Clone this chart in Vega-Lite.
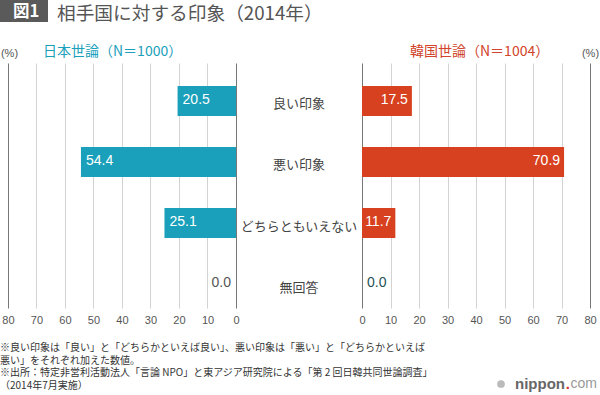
{
  "$schema": "https://vega.github.io/schema/vega-lite/v6.json",
  "padding": 0,
  "background": "white",
  "config": {"view": {"stroke": null}, "font": "Noto Sans CJK JP"},
  "data": {"values": [
    {"cat": "良い印象", "jp": 20.5, "kr": 17.5},
    {"cat": "悪い印象", "jp": 54.4, "kr": 70.9},
    {"cat": "どちらともいえない", "jp": 25.1, "kr": 11.7},
    {"cat": "無回答", "jp": 0.0, "kr": 0.0}
  ]},
  "bounds": "flush",
  "spacing": 41,
  "vconcat": [
    {
      "width": 48,
      "height": 22,
      "view": {"fill": "#5a5a5a", "stroke": null},
      "data": {"values": [{"t": "図1"}]},
      "mark": {"type": "text", "text": "図1", "color": "white", "fontSize": 16.5, "fontWeight": "bold", "font": "Noto Sans CJK JP", "dx": 2, "dy": 1},
      "title": {"text": "相手国に対する印象（2014年）", "orient": "top", "anchor": "start", "frame": "group", "dx": 57, "dy": 21, "offset": -12, "baseline": "middle", "fontSize": 18.7, "fontWeight": "normal", "color": "#555555", "font": "Noto Sans CJK JP"}
    },
    {
      "hconcat": [
        {
          "width": 236,
          "height": 245,
          "title": {"text": "日本世論（N＝1000）", "anchor": "start", "frame": "group", "dx": 43, "dy": 18.5, "baseline": "middle", "offset": 0, "fontSize": 14, "fontWeight": "normal", "color": "#1aa0ba", "font": "Noto Sans CJK JP"},
          "encoding": {
            "y": {"field": "cat", "type": "nominal", "sort": null,
              "scale": {"paddingInner": 0.508, "paddingOuter": 0.262, "align": 0.72},
              "axis": {"orient": "left", "labels": false, "ticks": false, "domain": false, "grid": false, "title": "(%)", "titleAngle": 0, "titleX": 9, "titleY": -5, "titleAlign": "center", "titleBaseline": "bottom", "titleFontSize": 11, "titleFontWeight": "normal", "titleColor": "#555555", "titleFont": "Liberation Sans"}},
            "x": {"field": "jp", "type": "quantitative",
              "scale": {"domain": [0, 82.807], "reverse": true, "nice": false, "zero": true},
              "axis": {"values": [0, 10, 20, 30, 40, 50, 60, 70, 80], "grid": true,
                "gridColor": {"condition": {"test": "datum.value === 0 || datum.value === 80", "value": "#777777"}, "value": "#d3d3d3"},
                "domain": false, "ticks": false, "tickSize": 0, "labelPadding": 6, "labelFontSize": 11, "labelColor": "#555555", "labelFont": "Liberation Sans", "labelFlush": false, "labelOverlap": false, "title": null}}
          },
          "layer": [
            {"mark": {"type": "bar", "color": "#1aa0ba"}},
            {"transform": [{"filter": "datum.jp > 0"}],
             "mark": {"type": "text", "align": "left", "dx": 5, "dy": -1, "color": "white", "fontSize": 14, "font": "Liberation Sans"},
             "encoding": {"text": {"field": "jp", "type": "quantitative", "format": ".1f"}}},
            {"transform": [{"filter": "datum.jp == 0"}],
             "mark": {"type": "text", "align": "right", "dx": -5, "dy": -1, "color": "#555555", "fontSize": 14, "font": "Liberation Sans"},
             "encoding": {"text": {"field": "jp", "type": "quantitative", "format": ".1f"}}}
          ]
        },
        {
          "width": 126,
          "height": 245,
          "title": {"text": ["※良い印象は「良い」と「どちらかといえば良い」、悪い印象は「悪い」と「どちらかといえば", "悪い」をそれぞれ加えた数値。", "※出所：特定非営利活動法人「言論 NPO」と東アジア研究院による「第 2 回日韓共同世論調査」", "（2014年7月実施）"], "orient": "bottom", "anchor": "start", "frame": "group", "dx": -236, "baseline": "top", "offset": 35, "fontSize": 10, "lineHeight": 12.7, "font": "Noto Sans CJK JP", "fontWeight": "normal", "color": "#333333"},
          "mark": {"type": "text", "fontSize": 13, "dy": -3, "color": "#444444", "font": "Noto Sans CJK JP"},
          "encoding": {
            "y": {"field": "cat", "type": "nominal", "sort": null,
              "scale": {"paddingInner": 0.508, "paddingOuter": 0.262, "align": 0.72}, "axis": null},
            "text": {"field": "cat", "type": "nominal"}
          }
        },
        {
          "width": 228,
          "height": 245,
          "title": {"text": "韓国世論（N＝1004）", "anchor": "start", "frame": "group", "dx": 48, "dy": 18.5, "baseline": "middle", "offset": 0, "fontSize": 14, "fontWeight": "normal", "color": "#d1432a", "font": "Noto Sans CJK JP"},
          "layer": [
            {
              "encoding": {
                "y": {"field": "cat", "type": "nominal", "sort": null,
                  "scale": {"paddingInner": 0.508, "paddingOuter": 0.262, "align": 0.72},
                  "axis": {"orient": "right", "labels": false, "ticks": false, "domain": false, "grid": false, "title": "(%)", "titleAngle": 0, "titleX": 0, "titleY": -5, "titleAlign": "center", "titleBaseline": "bottom", "titleFontSize": 11, "titleFontWeight": "normal", "titleColor": "#555555", "titleFont": "Liberation Sans"}},
                "x": {"field": "kr", "type": "quantitative",
                  "scale": {"domain": [0, 80], "nice": false, "zero": true},
                  "axis": {"values": [0, 10, 20, 30, 40, 50, 60, 70, 80], "grid": true,
                    "gridColor": {"condition": {"test": "datum.value === 0 || datum.value === 80", "value": "#777777"}, "value": "#d3d3d3"},
                    "domain": false, "ticks": false, "tickSize": 0, "labelPadding": 6, "labelFontSize": 11, "labelColor": "#555555", "labelFont": "Liberation Sans", "labelFlush": false, "labelOverlap": false, "title": null}}
              },
              "layer": [
                {"mark": {"type": "bar", "color": "#d8411f"}},
                {"transform": [{"filter": "datum.kr > 0"}],
                 "mark": {"type": "text", "align": "right", "dx": -4, "dy": -1, "color": "white", "fontSize": 14, "font": "Liberation Sans"},
                 "encoding": {"text": {"field": "kr", "type": "quantitative", "format": ".1f"}}},
                {"transform": [{"filter": "datum.kr == 0"}],
                 "mark": {"type": "text", "align": "left", "dx": 5, "dy": -1, "color": "#1f5256", "fontSize": 14, "font": "Liberation Sans"},
                 "encoding": {"text": {"field": "kr", "type": "quantitative", "format": ".1f"}}}
              ]
            },
            {
              "data": {"values": [{"t": "logo"}]},
              "layer": [
                {"mark": {"type": "circle", "size": 60, "color": "#bbbbbb", "opacity": 1, "xOffset": -89, "yOffset": 76}, "encoding": {"x": {"value": "width"}, "y": {"value": "height"}}},
                {"mark": {"type": "text", "text": "nippon", "align": "right", "baseline": "middle", "dx": -25, "dy": 76, "fontSize": 15, "fontWeight": "bold", "color": "#666666", "font": "Liberation Sans"}, "encoding": {"x": {"value": "width"}, "y": {"value": "height"}}},
                {"mark": {"type": "text", "text": ".", "align": "right", "baseline": "middle", "dx": -20, "dy": 76, "fontSize": 15, "fontWeight": "bold", "color": "#e0302c", "font": "Liberation Sans"}, "encoding": {"x": {"value": "width"}, "y": {"value": "height"}}},
                {"mark": {"type": "text", "text": "com", "align": "right", "baseline": "middle", "dx": 7, "dy": 76, "fontSize": 14, "color": "#999999", "font": "Liberation Sans"}, "encoding": {"x": {"value": "width"}, "y": {"value": "height"}}}
              ]
            }
          ]
        }
      ],
      "spacing": 0,
      "bounds": "flush",
      "resolve": {"scale": {"x": "independent", "y": "independent"}}
    }
  ]
}
